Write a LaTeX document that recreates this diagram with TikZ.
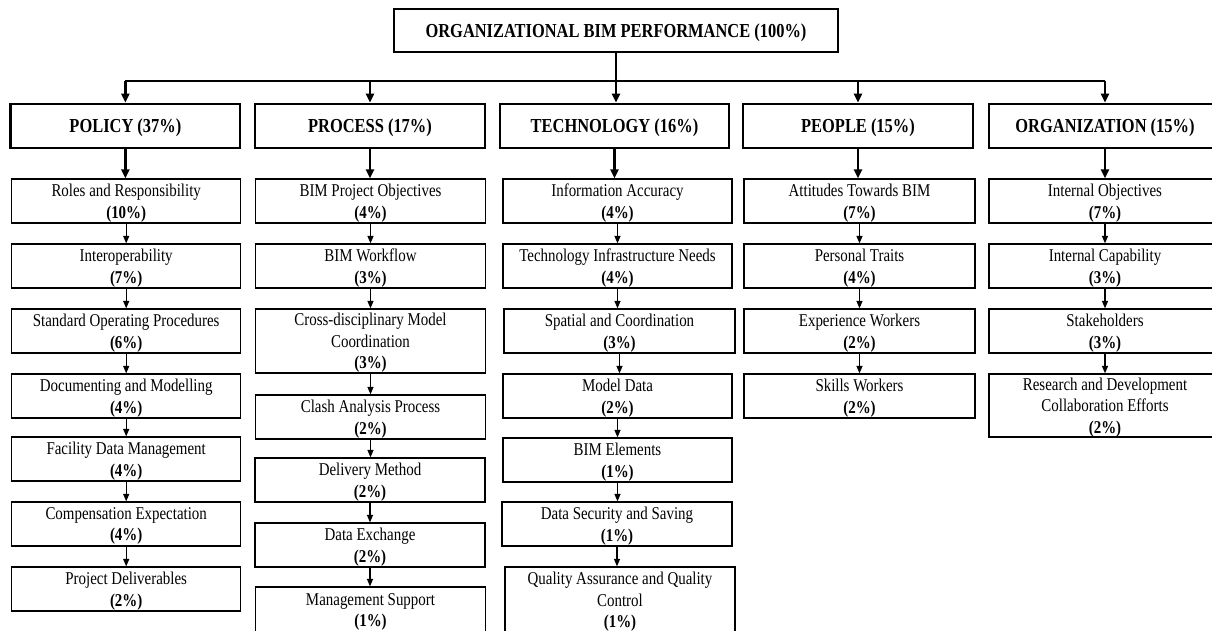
\documentclass[tikz,border=0pt]{standalone}
\usepackage{fontspec}
\setmainfont[FakeStretch=0.83]{Liberation Serif}
\usetikzlibrary{arrows.meta}
\begin{document}
\begin{tikzpicture}[x=1pt,y=-1pt,
  catbox/.style={draw, line width=2.8pt, minimum height=44pt, inner sep=0pt, text depth=0pt, font=\fontsize{19.8}{24}\selectfont\bfseries},
  subbox/.style={draw, line width=1.25pt, minimum height=44pt, inner sep=0pt, text depth=0pt, align=center, font=\fontsize{18}{21.7}\selectfont},
  bigline/.style={line width=2.3pt},
  bigarrow/.style={line width=2.3pt, -{Triangle[length=9pt,width=8pt]}},
  smallarrow/.style={line width=1.25pt, -{Triangle[length=7.5pt,width=6pt]}}]
\path[use as bounding box, fill=white] (0,0) rectangle (1212,631);

% top
\node[catbox, minimum width=444pt, minimum height=43pt] (top) at (616,30.5) {ORGANIZATIONAL BIM PERFORMANCE (100\%)};

% categories
\node[catbox, minimum width=229.3pt] (policy) at (125.4,126) {POLICY (37\%)};
\node[catbox, minimum width=230pt] (process) at (370,126) {PROCESS (17\%)};
\node[catbox, minimum width=229pt] (tech) at (614.5,126) {TECHNOLOGY (16\%)};
\node[catbox, minimum width=230pt] (people) at (858,126) {PEOPLE (15\%)};
\node[catbox, minimum width=232pt] (org) at (1105,126) {ORGANIZATION (15\%)};

\coordinate (hl) at (125,81);
\draw[bigline] (policy.north |- hl) -- (org.north |- hl);
\draw[bigarrow] (top.south) -- (top.south |- tech.north);
\draw[bigarrow] (policy.north |- hl) -- (policy.north);
\draw[bigarrow] (process.north |- hl) -- (process.north);
\draw[bigarrow] (people.north |- hl) -- (people.north);
\draw[bigarrow] (org.north |- hl) -- (org.north);

% policy column
\begin{scope}[every node/.append style={subbox, minimum width=229pt}]
\node (p1) at (126.2,201) {Roles and Responsibility\\\textbf{(10\%)}};
\node (p2) at (126.2,266) {Interoperability\\\textbf{(7\%)}};
\node (p3) at (126.2,331) {Standard Operating Procedures\\\textbf{(6\%)}};
\node (p4) at (126.2,396) {Documenting and Modelling\\\textbf{(4\%)}};
\node (p5) at (126.2,459) {Facility Data Management\\\textbf{(4\%)}};
\node (p6) at (126.2,524) {Compensation Expectation\\\textbf{(4\%)}};
\node (p7) at (126.2,589) {Project Deliverables\\\textbf{(2\%)}};
\end{scope}

% process column
\begin{scope}[every node/.append style={subbox, minimum width=230pt}]
\node (r1) at (370.5,201) {BIM Project Objectives\\\textbf{(4\%)}};
\node (r2) at (370.5,266) {BIM Workflow\\\textbf{(3\%)}};
\node[minimum height=64pt] (r3) at (370.5,341) {Cross-disciplinary Model\\Coordination\\\textbf{(3\%)}};
\node (r4) at (370.5,417) {Clash Analysis Process\\\textbf{(2\%)}};
\node (r5) at (370,480) {Delivery Method\\\textbf{(2\%)}};
\node (r6) at (370,545) {Data Exchange\\\textbf{(2\%)}};
\node[minimum height=46pt] (r7) at (370.5,610) {Management Support\\\textbf{(1\%)}};
\end{scope}

% technology column
\begin{scope}[every node/.append style={subbox, minimum width=229pt}]
\node (t1) at (617.5,201) {Information Accuracy\\\textbf{(4\%)}};
\node (t2) at (617.5,266) {Technology Infrastructure Needs\\\textbf{(4\%)}};
\node[minimum width=231pt] (t3) at (619.5,331) {Spatial and Coordination\\\textbf{(3\%)}};
\node (t4) at (617.5,396) {Model Data\\\textbf{(2\%)}};
\node (t5) at (617.5,460) {BIM Elements\\\textbf{(1\%)}};
\node[minimum width=230pt] (t6) at (617,524) {Data Security and Saving\\\textbf{(1\%)}};
\node[minimum width=230pt, minimum height=66pt] (t7) at (620,600) {Quality Assurance and Quality\\Control\\\textbf{(1\%)}};
\end{scope}

% people column
\begin{scope}[every node/.append style={subbox, minimum width=231pt}]
\node (e1) at (859.5,201) {Attitudes Towards BIM\\\textbf{(7\%)}};
\node (e2) at (859.5,266) {Personal Traits\\\textbf{(4\%)}};
\node (e3) at (859.5,331) {Experience Workers\\\textbf{(2\%)}};
\node (e4) at (859.5,396) {Skills Workers\\\textbf{(2\%)}};
\end{scope}

% organization column
\begin{scope}[every node/.append style={subbox, minimum width=232pt}]
\node (o1) at (1105,201) {Internal Objectives\\\textbf{(7\%)}};
\node (o2) at (1105,266) {Internal Capability\\\textbf{(3\%)}};
\node (o3) at (1105,331) {Stakeholders\\\textbf{(3\%)}};
\node[minimum height=63pt] (o4) at (1105,405.5) {Research and Development\\Collaboration Efforts\\\textbf{(2\%)}};
\end{scope}

% category to first sub
\draw[bigarrow] (policy.south) -- (policy.south |- p1.north);
\draw[bigarrow] (process.south) -- (process.south |- r1.north);
\draw[bigarrow] (tech.south) -- (tech.south |- t1.north);
\draw[bigarrow] (people.south) -- (people.south |- e1.north);
\draw[bigarrow] (org.south) -- (org.south |- o1.north);

% sub chains
\foreach \a/\b in {p1/p2,p2/p3,p3/p4,p4/p5,p5/p6,p6/p7,
                   r1/r2,r2/r3,r3/r4,r4/r5,r5/r6,r6/r7,
                   t1/t2,t2/t3,t3/t4,t4/t5,t5/t6,t6/t7,
                   e1/e2,e2/e3,e3/e4,
                   o1/o2,o2/o3,o3/o4}
  \draw[smallarrow] (\a.south) -- (\a.south |- \b.north);
\end{tikzpicture}
\end{document}
